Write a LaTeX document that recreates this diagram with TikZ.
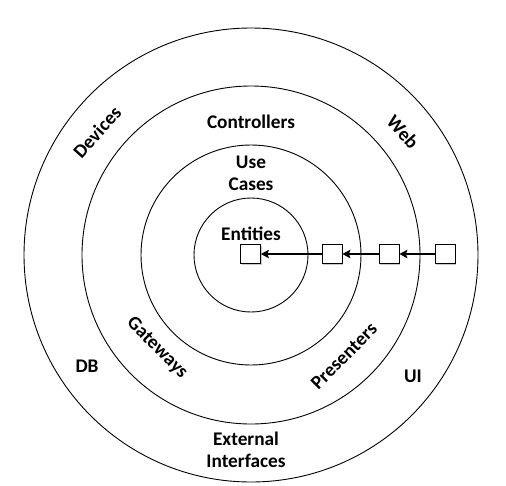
\documentclass[tikz,border=0pt]{standalone}
\usepackage{fontspec}
\setmainfont{Carlito}
\usetikzlibrary{arrows.meta,shadows}
\begin{document}
\begin{tikzpicture}[x=1pt,y=-1pt,
  ring/.style={draw=black, line width=0.9pt},
  lbl/.style={font=\bfseries\fontsize{19.3}{22}\selectfont, align=center, inner sep=0pt},
  cell/.style={draw=black, line width=0.8pt, fill=white, minimum width=20pt, minimum height=19pt, inner sep=0pt,
    drop shadow={shadow xshift=1.3pt, shadow yshift=-1.3pt, fill=black!35, opacity=0.6}},
  dep/.style={-{Stealth[length=8pt,width=8.5pt,inset=1.5pt]}, line width=1.4pt}]
\useasboundingbox (0,0) rectangle (506,485);
\coordinate (c) at (251,255);
% concentric layers
\draw[ring] (c) circle[radius=227];
\draw[ring] (c) circle[radius=169];
\draw[ring] (c) circle[radius=110];
\draw[ring] (c) circle[radius=57];
% layer labels
\node[lbl] (ent) at (251,234) {Entities};
\node[lbl] (uc) at (251,173) {Use\\Cases};
\node[lbl] (ctl) at (251,122) {Controllers};
\node[lbl, rotate=-45] (gw) at (157,348) {Gateways};
\node[lbl, rotate=45] (pr) at (344,356) {Presenters};
\node[lbl, rotate=48] (dev) at (97,132) {Devices};
\node[lbl, rotate=-48] (web) at (403,132) {Web};
\node[lbl] (db) at (87,366) {DB};
\node[lbl] (ui) at (413,376) {UI};
\node[lbl] (ext) at (246,449.5) {External\\Interfaces};
% dependency chain
\node[cell] (b1) at (250.5,254) {};
\node[cell] (b2) at (332,254) {};
\node[cell] (b3) at (389,254) {};
\node[cell] (b4) at (445,254) {};
\draw[dep] (b2) -- (b1);
\draw[dep] (b3) -- (b2);
\draw[dep] (b4) -- (b3);
\end{tikzpicture}
\end{document}
